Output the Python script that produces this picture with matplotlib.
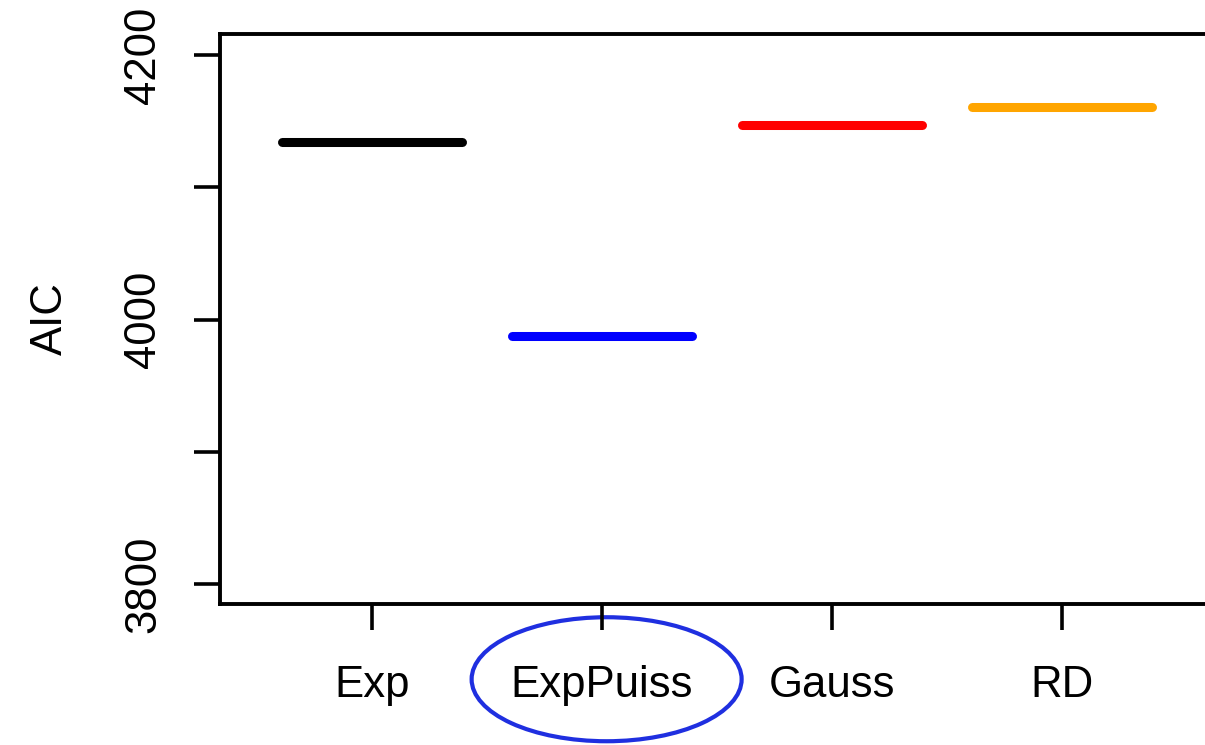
import matplotlib.pyplot as plt
from matplotlib.patches import Ellipse

plt.rcParams['font.family'] = ['Liberation Sans', 'DejaVu Sans']

# data
models = ['Exp', 'ExpPuiss', 'Gauss', 'RD']
aic = [4134, 3988, 4147, 4161]
colors = ['black', 'blue', 'red', 'orange']
yticks = [3800, 3900, 4000, 4100, 4200]
ytick_labels = ['3800', '', '4000', '', '4200']

fig = plt.figure(figsize=(12.05, 7.45), dpi=100)
W, H = 1205, 745
# axes box (right edge runs past the figure, like the cropped original)
ax = fig.add_axes([220 / W, (H - 604) / H, 1000 / W, 570 / H])

x = range(1, len(models) + 1)
for xi, v, c in zip(x, aic, colors):
    ax.hlines(v, xi - 0.39, xi + 0.39, color=c, lw=6.5, capstyle='round')

ax.set_xlim(0.339, 0.339 + 1000 / 230)
ax.set_ylim(3785, 4216)

ax.set_xticks(list(x))
ax.set_xticklabels(models, fontsize=31.5)
ax.set_yticks(yticks)
ax.set_yticklabels(ytick_labels, fontsize=31.5, rotation=90, va='center')
ax.set_ylabel('AIC', fontsize=31.5, labelpad=38)

for s in ax.spines.values():
    s.set_linewidth(2.8)
ax.tick_params(axis='both', length=19, width=2.6, direction='out')
ax.tick_params(axis='x', pad=25)
ax.tick_params(axis='y', pad=21)

# circle around the chosen model's label
ell = Ellipse((2.02, -0.132), 270 / 230, 124 / 570,
              transform=ax.get_xaxis_transform(), fill=False,
              edgecolor='#1f2fe0', lw=3, clip_on=False)
ax.add_patch(ell)

plt.savefig('out.png', dpi=100)
